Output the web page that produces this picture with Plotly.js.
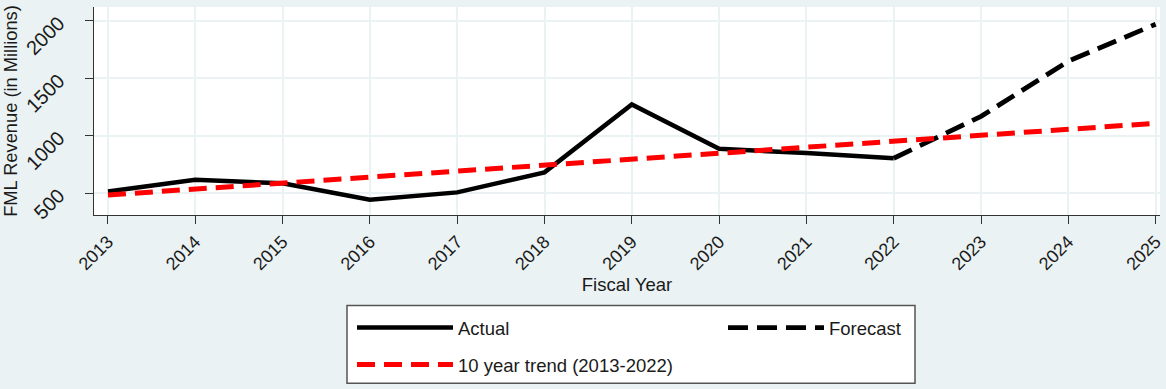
<!DOCTYPE html>
<html>
<head>
<meta charset="utf-8">
<script src="https://cdn.plot.ly/plotly-3.0.1.min.js"></script>
<style>
  html, body { margin: 0; padding: 0; background: #eaf2f3; }
  #chart { width: 1166px; height: 389px; }
</style>
</head>
<body>
<div id="chart"></div>
<script>
// ---- data ----
const years = [2013, 2014, 2015, 2016, 2017, 2018, 2019, 2020, 2021, 2022, 2023, 2024, 2025];
const yearLabels = ["2013","2014","2015","2016","2017","2018","2019","2020","2021","2022","2023","2024","2025"];

const actualYears = [2013, 2014, 2015, 2016, 2017, 2018, 2019, 2020, 2021, 2022];
const actualValues = [513, 615, 585, 442, 506, 680, 1272, 885, 848, 803];

const forecastYears = [2022, 2023, 2024, 2025];
const forecastValues = [803, 1168, 1648, 1970];

const trendYears = [2013, 2014, 2015, 2016, 2017, 2018, 2019, 2020, 2021, 2022, 2023, 2024, 2025];
const trendValues = [483, 535, 587, 639, 691, 743, 795, 847, 899, 951, 1003, 1055, 1107];

const yTickVals = [500, 1000, 1500, 2000];
const yTickText = ["500", "1000", "1500", "2000"];

const seriesNames = ["Actual", "Forecast", "10 year trend (2013-2022)"];

// ---- chart ----
const FONT = "Liberation Sans, Arial, Helvetica, sans-serif";

const traces = [
  {
    x: actualYears, y: actualValues, name: seriesNames[0], type: "scatter", mode: "lines",
    line: { color: "#000000", width: 4.5 }, legend: "legend", hoverinfo: "x+y"
  },
  {
    x: forecastYears, y: forecastValues, name: seriesNames[1], type: "scatter", mode: "lines",
    line: { color: "#000000", width: 4.8, dash: "20px,9px" }, legend: "legend2", hoverinfo: "x+y"
  },
  {
    x: trendYears, y: trendValues, name: seriesNames[2], type: "scatter", mode: "lines",
    line: { color: "#ff0000", width: 5, dash: "18px,9px" }, legend: "legend3", hoverinfo: "x+y"
  }
];

const W = 1166, H = 389;
const m = { l: 94, r: 6, t: 7, b: 173 };
const pw = W - m.l - m.r, ph = H - m.t - m.b;
const px2x = p => (p - m.l) / pw;
const px2y = p => (H - m.b - p) / ph;

const legendCommon = {
  orientation: "v", bgcolor: "rgba(0,0,0,0)", borderwidth: 0,
  font: { family: FONT, size: 18.5, color: "#1a1a1a" },
  itemwidth: 96, xanchor: "left", yanchor: "middle", itemclick: false, itemdoubleclick: false
};

const layout = {
  width: W, height: H,
  margin: m,
  paper_bgcolor: "#eaf2f3",
  plot_bgcolor: "#ffffff",
  font: { family: FONT, color: "#1a1a1a" },
  showlegend: true,
  xaxis: {
    range: [2012.84, 2025.05],
    tickmode: "array", tickvals: years, ticktext: yearLabels,
    tickangle: -45,
    tickfont: { family: FONT, size: 18, color: "#1a1a1a" },
    ticks: "outside", ticklen: 8, tickwidth: 1, tickcolor: "#333333",
    showline: true, linecolor: "#333333", linewidth: 1.2,
    showgrid: true, gridcolor: "#eaf2f3", gridwidth: 1.5,
    zeroline: false, fixedrange: true,
    title: { text: "Fiscal Year", font: { family: FONT, size: 18.5, color: "#1a1a1a" }, standoff: 4 }
  },
  yaxis: {
    range: [309, 2120],
    tickmode: "array", tickvals: yTickVals, ticktext: yTickText,
    tickangle: -45,
    tickfont: { family: FONT, size: 20, color: "#1a1a1a" },
    ticks: "outside", ticklen: 8, tickwidth: 1, tickcolor: "#333333",
    ticklabelstandoff: 22,
    showline: true, linecolor: "#333333", linewidth: 1.2,
    showgrid: true, gridcolor: "#eaf2f3", gridwidth: 1.5,
    zeroline: false, fixedrange: true,
    title: { text: "FML Revenue (in Millions)", font: { family: FONT, size: 18.3, color: "#1a1a1a" }, standoff: 3 }
  },
  legend: Object.assign({}, legendCommon, { x: px2x(352), y: px2y(328) }),
  legend2: Object.assign({}, legendCommon, { x: px2x(723), y: px2y(328) }),
  legend3: Object.assign({}, legendCommon, { x: px2x(352), y: px2y(365) }),
  shapes: [
    {
      type: "rect", xref: "paper", yref: "paper", layer: "below",
      x0: px2x(347), x1: px2x(915), y0: px2y(385), y1: px2y(307),
      fillcolor: "#ffffff", line: { color: "#555555", width: 1.5 }
    }
  ]
};

Plotly.newPlot("chart", traces, layout, { displayModeBar: false, staticPlot: false });
</script>
</body>
</html>
